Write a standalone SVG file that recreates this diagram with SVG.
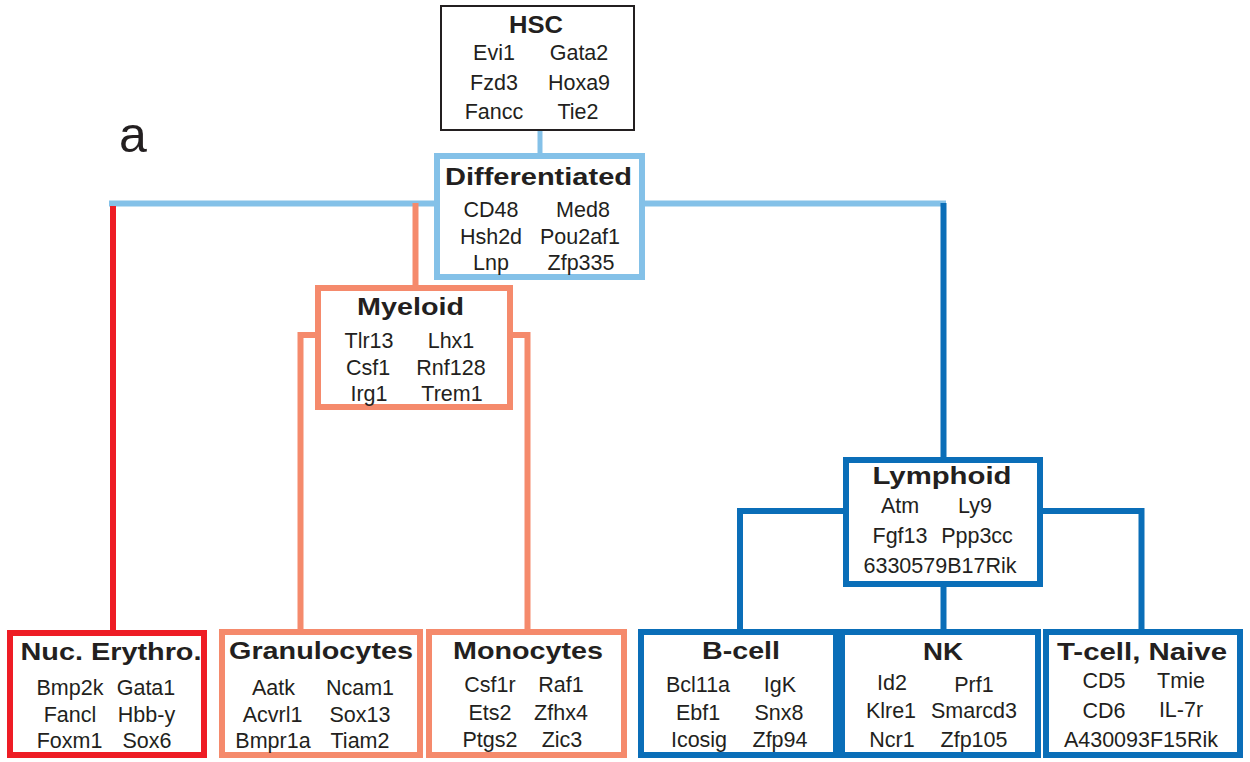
<svg xmlns="http://www.w3.org/2000/svg" width="1250" height="762" viewBox="0 0 1250 762">
<style>
.box{fill:#fff;stroke-width:6}
.lb{stroke:#84C1E8}
.or{stroke:#F58A6C}
.rd{stroke:#EE1D25}
.db{stroke:#0A6EB8}
.conn path{fill:none;stroke-width:6}
text{font-family:"Liberation Sans",Arial,Helvetica,sans-serif;fill:#231F20;text-anchor:middle}
.t{font-weight:bold;font-size:24.5px}
.g{font-size:21.5px}
</style>
<rect width="1250" height="762" fill="#fff"/>
<text x="133" y="152" style="font-size:50px;text-anchor:middle">a</text>
<g id="connectors" class="conn">
<path class="lb" d="M540,130V154" style="stroke-width:5"/>
<path class="lb" d="M109,203.5H435"/>
<path class="lb" d="M644,203.5H946"/>
<path class="rd" d="M113,206V631"/>
<path class="or" d="M415.5,203V286"/>
<path class="db" d="M943.5,203V458"/>
<path class="or" d="M316,335H300.5V630"/>
<path class="or" d="M512,335H527.5V630"/>
<path class="db" d="M844,511H740V631"/>
<path class="db" d="M1042,511H1141.5V631"/>
<path class="db" d="M943.5,586V631"/>
</g>
<g id="hsc">
<rect x="441" y="6" width="193" height="124" fill="#fff" stroke="#231F20" stroke-width="2"/>
<text class="t" x="536" y="33" textLength="54" lengthAdjust="spacingAndGlyphs">HSC</text>
<text class="g" x="494" y="60">Evi1</text><text class="g" x="579" y="60">Gata2</text>
<text class="g" x="494" y="90">Fzd3</text><text class="g" x="579" y="90">Hoxa9</text>
<text class="g" x="494" y="119">Fancc</text><text class="g" x="578" y="119">Tie2</text>
</g>
<g id="differentiated">
<rect class="box lb" x="437" y="156" width="205" height="121"/>
<text class="t" x="538.5" y="185" textLength="187" lengthAdjust="spacingAndGlyphs">Differentiated</text>
<text class="g" x="491" y="217">CD48</text><text class="g" x="583" y="217">Med8</text>
<text class="g" x="491" y="244">Hsh2d</text><text class="g" x="580" y="244">Pou2af1</text>
<text class="g" x="491" y="270">Lnp</text><text class="g" x="581" y="270">Zfp335</text>
</g>
<g id="myeloid">
<rect class="box or" x="318" y="288" width="192" height="119"/>
<text class="t" x="410.5" y="315" textLength="107" lengthAdjust="spacingAndGlyphs">Myeloid</text>
<text class="g" x="369" y="348">Tlr13</text><text class="g" x="451" y="348">Lhx1</text>
<text class="g" x="368" y="375">Csf1</text><text class="g" x="451" y="375">Rnf128</text>
<text class="g" x="369" y="401">Irg1</text><text class="g" x="452" y="401">Trem1</text>
</g>
<g id="lymphoid">
<rect class="box db" x="846" y="460" width="194" height="124"/>
<text class="t" x="942" y="484" textLength="139" lengthAdjust="spacingAndGlyphs">Lymphoid</text>
<text class="g" x="900" y="513">Atm</text><text class="g" x="975" y="513">Ly9</text>
<text class="g" x="900" y="543">Fgf13</text><text class="g" x="977" y="543">Ppp3cc</text>
<text class="g" x="940" y="573">6330579B17Rik</text>
</g>
<g id="nuc-erythro">
<rect class="box rd" x="10" y="633" width="194" height="122"/>
<text class="t" x="111" y="660" textLength="181" lengthAdjust="spacingAndGlyphs">Nuc. Erythro.</text>
<text class="g" x="70" y="695">Bmp2k</text><text class="g" x="146" y="695">Gata1</text>
<text class="g" x="70" y="722">Fancl</text><text class="g" x="146.5" y="722">Hbb-y</text>
<text class="g" x="69.5" y="748">Foxm1</text><text class="g" x="147" y="748">Sox6</text>
</g>
<g id="granulocytes">
<rect class="box or" x="222" y="632" width="198" height="123"/>
<text class="t" x="321" y="659" textLength="184" lengthAdjust="spacingAndGlyphs">Granulocytes</text>
<text class="g" x="273.5" y="695">Aatk</text><text class="g" x="360" y="695">Ncam1</text>
<text class="g" x="272.5" y="722">Acvrl1</text><text class="g" x="360" y="722">Sox13</text>
<text class="g" x="273" y="748">Bmpr1a</text><text class="g" x="360" y="748">Tiam2</text>
</g>
<g id="monocytes">
<rect class="box or" x="429" y="632" width="195" height="123"/>
<text class="t" x="528" y="659" textLength="150" lengthAdjust="spacingAndGlyphs">Monocytes</text>
<text class="g" x="490" y="692">Csf1r</text><text class="g" x="561" y="692">Raf1</text>
<text class="g" x="490" y="720">Ets2</text><text class="g" x="561" y="720">Zfhx4</text>
<text class="g" x="490" y="747">Ptgs2</text><text class="g" x="562" y="747">Zic3</text>
</g>
<g id="b-cell">
<rect class="box db" x="641" y="632" width="195" height="123"/>
<text class="t" x="741" y="659" textLength="78" lengthAdjust="spacingAndGlyphs">B-cell</text>
<text class="g" x="698" y="692">Bcl11a</text><text class="g" x="780" y="692">IgK</text>
<text class="g" x="698" y="720">Ebf1</text><text class="g" x="779" y="720">Snx8</text>
<text class="g" x="699" y="747">Icosig</text><text class="g" x="780" y="747">Zfp94</text>
</g>
<g id="nk">
<rect class="box db" x="842" y="632" width="196" height="123"/>
<text class="t" x="943" y="660" textLength="40" lengthAdjust="spacingAndGlyphs">NK</text>
<text class="g" x="892" y="690">Id2</text><text class="g" x="974" y="692">Prf1</text>
<text class="g" x="891" y="718">Klre1</text><text class="g" x="974" y="718">Smarcd3</text>
<text class="g" x="892" y="747">Ncr1</text><text class="g" x="974" y="747">Zfp105</text>
</g>
<g id="t-cell-naive">
<rect class="box db" x="1046" y="632" width="194" height="123"/>
<text class="t" x="1142" y="660" textLength="170" lengthAdjust="spacingAndGlyphs">T-cell, Naive</text>
<text class="g" x="1104" y="688">CD5</text><text class="g" x="1181" y="688">Tmie</text>
<text class="g" x="1104" y="718">CD6</text><text class="g" x="1181" y="717">IL-7r</text>
<text class="g" x="1141" y="747">A430093F15Rik</text>
</g>
</svg>
